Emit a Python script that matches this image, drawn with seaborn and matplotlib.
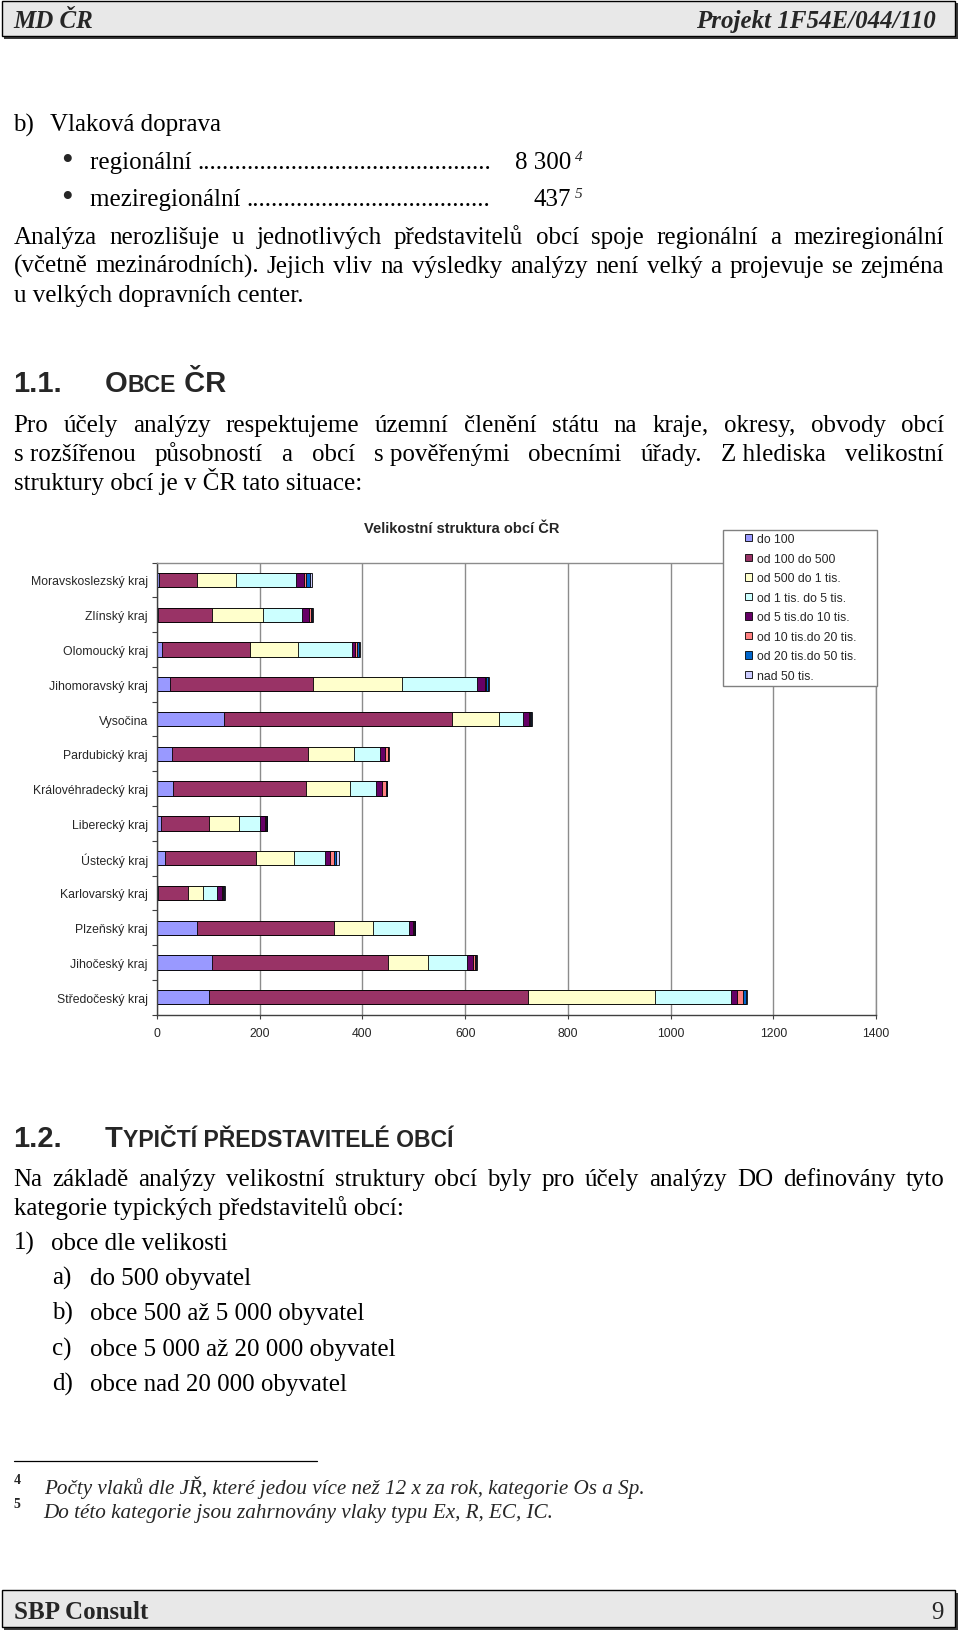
import matplotlib
matplotlib.use("Agg")
import matplotlib.pyplot as plt
import seaborn as sns
import pandas as pd
import numpy as np
from matplotlib.patches import Rectangle, Patch
from matplotlib.lines import Line2D

W, H = 960, 1631

# Kraje (shora dolu jako v grafu)
regions = ["Moravskoslezský kraj", "Zlínský kraj", "Olomoucký kraj", "Jihomoravský kraj",
           "Vysočina", "Pardubický kraj", "Královéhradecký kraj", "Liberecký kraj",
           "Ústecký kraj", "Karlovarský kraj", "Plzeňský kraj", "Jihočeský kraj",
           "Středočeský kraj"]

size_classes = ["do 100", "od 100 do 500", "od 500 do 1 tis.", "od 1 tis. do 5 tis.",
                "od 5 tis.do 10 tis.", "od 10 tis.do 20 tis.", "od 20 tis.do 50 tis.",
                "nad 50 tis."]

do_100 = [3, 2, 10, 26, 131, 30, 32, 7, 16, 2, 77, 108, 102]
od_100_500 = [75, 106, 171, 278, 443, 264, 258, 94, 176, 59, 267, 341, 621]
od_500_1k = [76, 98, 94, 174, 91, 89, 86, 58, 74, 28, 76, 79, 247]
od_1k_5k = [116, 77, 105, 146, 48, 52, 50, 41, 61, 28, 70, 76, 147]
od_5k_10k = [16, 13, 5, 14, 11, 8, 13, 10, 9, 9, 9, 12, 13]
od_10k_20k = [5, 3, 5, 3, 2, 6, 6, 2, 9, 2, 2, 4, 12]
od_20k_50k = [6, 3, 3, 4, 3, 1, 2, 2, 4, 3, 1, 2, 4]
nad_50k = [5, 2, 2, 2, 1, 1, 1, 1, 5, 1, 1, 1, 2]

colors = ["#9999FF", "#993366", "#FFFFCC", "#CCFFFF", "#660066", "#FF8080", "#0066CC", "#CCCCFF"]

sns.set_theme(style="white")
plt.rcParams["font.family"] = ["Liberation Sans", "DejaVu Sans"]

fig = plt.figure(figsize=(W / 100, H / 100), dpi=100, facecolor="white")
renderer = fig.canvas.get_renderer()

serif = ["Liberation Serif", "DejaVu Serif"]
body = dict(family=serif, fontsize=18, color="black")


def put(x, y, s, **kw):
    return fig.text(x / W, 1 - y / H, s, va="baseline", **kw)


def width(t):
    return t.get_window_extent(renderer).width


def run(x, y, parts):
    for s, kw in parts:
        t = put(x, y, s, **kw)
        x += width(t)
    return x


def justify(y, line, x0=13.5, x1=944, **kw):
    words = line.split(" ")
    ts = [put(x0, y, w.replace("~", " "), **kw) for w in words]
    ws = [width(t) for t in ts]
    gap = (x1 - x0 - sum(ws)) / (len(ws) - 1)
    x = x0
    for t, w in zip(ts, ws):
        t.set_x(x / W)
        x += w + gap


def box(x0, y0, x1, y1, **kw):
    fig.add_artist(Rectangle((x0 / W, 1 - y1 / H), (x1 - x0) / W, (y1 - y0) / H,
                             transform=fig.transFigure, **kw))


# --- zahlavi a zapati ---
box(4, 4, 958, 40, fc="#3a3a3a", ec="none")
box(2, 2, 955, 37, fc="#e8e8e8", ec="black", lw=1)
put(13, 28, "MD ČR", family=serif, weight="bold", style="italic", fontsize=18)
put(936, 28, "Projekt 1F54E/044/110", family=serif, weight="bold", style="italic",
    fontsize=18, ha="right")

box(4, 1594, 958, 1631, fc="#3a3a3a", ec="none")
box(2, 1591, 955, 1628, fc="#e8e8e8", ec="black", lw=1)
put(13.5, 1619, "SBP Consult", family=serif, weight="bold", fontsize=18)
put(944, 1619, "9", family=serif, fontsize=18, ha="right")

# --- text nad grafem ---
put(13.5, 131.5, "b)", **body)
put(50, 131.5, "Vlaková doprava", **body)

for y, word, num, sup in [(169, "regionální", "8 300", "4"), (206, "meziregionální", "437", "5")]:
    put(67, y + 1, "•", ha="center", family=serif, fontsize=24)
    t = put(89.5, y, word + " ", **body)
    xe = 89.5 + width(t)
    d = put(xe, y, ".", **body)
    n = int((496 - xe) / width(d))
    d.set_text("." * n)
    put(571, y, num, ha="right", **body)
    put(575, y - 8, sup, family=serif, style="italic", fontsize=11)

justify(244, "Analýza nerozlišuje u jednotlivých představitelů obcí spoje regionální a meziregionální", **body)
justify(273, "(včetně mezinárodních). Jejich vliv na výsledky analýzy není velký a projevuje se zejména", **body)
put(13.5, 302, "u velkých dopravních center.", **body)

h1 = dict(family=["Liberation Sans", "DejaVu Sans"], weight="bold", fontsize=21)
h1s = dict(h1, fontsize=16.6)
put(13.5, 392, "1.1.", **h1)
run(105, 392, [("O", h1), ("BCE", h1s), (" ČR", h1)])

justify(432, "Pro účely analýzy respektujeme územní členění státu na kraje, okresy, obvody obcí", **body)
justify(461, "s~rozšířenou působností a obcí s~pověřenými obecními úřady. Z~hlediska velikostní", **body)
put(13.5, 490, "struktury obcí je v ČR tato situace:", **body)

# --- graf ---
ax = fig.add_axes([157 / W, 1 - 1015.7 / H, (876 - 157) / W, (1015.7 - 563.5) / H])

df = pd.DataFrame({
    "do 100": do_100,
    "od 100 do 500": od_100_500,
    "od 500 do 1 tis.": od_500_1k,
    "od 1 tis. do 5 tis.": od_1k_5k,
    "od 5 tis.do 10 tis.": od_5k_10k,
    "od 10 tis.do 20 tis.": od_10k_20k,
    "od 20 tis.do 50 tis.": od_20k_50k,
    "nad 50 tis.": nad_50k,
}, index=regions)
cum = df.cumsum(axis=1)
cum.index.name = "kraj"
cum = cum.reset_index()

# skladane pruhy: kumulativni soucty od nejdelsiho
for col, c in reversed(list(zip(size_classes, colors))):
    sns.barplot(data=cum, x=col, y="kraj", orient="y", color=c, saturation=1,
                width=0.41, edgecolor="black", linewidth=0.6, errorbar=None, ax=ax)

ax.set_xlabel("")
ax.set_ylabel("")
ax.set_xlim(0, 1400)
ax.set_xticks(range(0, 1401, 200))
ax.xaxis.grid(True, color="#8c8c8c", lw=1)
ax.set_axisbelow(True)
ax.tick_params(axis="x", bottom=True, direction="out", length=3, width=0.8,
               color="#404040", labelsize=8.8, pad=6)
ax.tick_params(axis="y", which="major", length=0, labelsize=8.8, pad=6.5)
ax.set_yticks(np.arange(-0.5, len(regions)), minor=True)
ax.tick_params(axis="y", which="minor", left=True, direction="out", length=3.3,
               width=0.8, color="#404040")
for s in ["top", "right"]:
    ax.spines[s].set_color("#8c8c8c")
for s in ["left", "bottom"]:
    ax.spines[s].set_color("#404040")
for s in ax.spines.values():
    s.set_linewidth(1)

put(462, 533, "Velikostní struktura obcí ČR", weight="bold", fontsize=10.5, ha="center")

box(723, 530.7, 877, 686.7, fc="white", ec="#808080", lw=1)
handles = [Patch(facecolor=c, edgecolor="black", lw=0.6) for c in colors]
fig.legend(handles, size_classes, loc="upper left", bbox_to_anchor=(745 / W, 1 - 534 / H),
           frameon=False, fontsize=8.8, handlelength=0.55, handleheight=0.55,
           handletextpad=0.45, labelspacing=0.62, borderpad=0, borderaxespad=0)

# --- text pod grafem ---
put(13.5, 1147, "1.2.", **h1)
run(105, 1147, [("T", h1), ("YPIČTÍ PŘEDSTAVITELÉ OBCÍ", h1s)])

justify(1186, "Na základě analýzy velikostní struktury obcí byly pro účely analýzy DO definovány tyto", **body)
put(13.5, 1215, "kategorie typických představitelů obcí:", **body)
put(13.5, 1250, "1)", **body)
put(51, 1250, "obce dle velikosti", **body)
for y, lab, s in [(1285, "a)", "do 500 obyvatel"), (1320, "b)", "obce 500 až 5 000 obyvatel"),
                  (1356, "c)", "obce 5 000 až 20 000 obyvatel"), (1391, "d)", "obce nad 20 000 obyvatel")]:
    put(52, y, lab, **body)
    put(90.5, y, s, **body)

fig.add_artist(Line2D([13.5 / W, 317 / W], [1 - 1462 / H, 1 - 1462 / H], color="black", lw=0.9,
                      transform=fig.transFigure))
put(13.5, 1484, "4", family=serif, weight="bold", fontsize=10)
put(43.7, 1494, "Počty vlaků dle JŘ, které jedou více než 12 x za rok, kategorie Os a Sp.",
    family=serif, style="italic", fontsize=15.2)
put(13.5, 1508, "5", family=serif, weight="bold", fontsize=10)
put(43.7, 1518, "Do této kategorie jsou zahrnovány vlaky typu Ex, R, EC, IC.",
    family=serif, style="italic", fontsize=15.2)

fig.savefig("out.png", dpi=100, facecolor="white")
